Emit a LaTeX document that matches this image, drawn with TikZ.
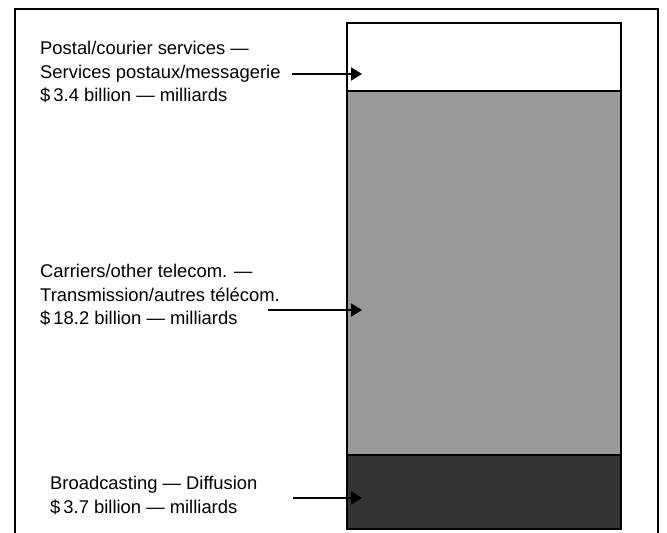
\documentclass[tikz,border=0pt]{standalone}
\usepackage{fontspec}
\setmainfont{Liberation Sans}
\usetikzlibrary{arrows.meta}

\begin{document}
\begin{tikzpicture}[x=1pt, y=-1pt,
  seg/.style={draw=black, line width=2.4pt},
  pointer/.style={-{Triangle[length=11pt, width=13pt]}, line width=2pt},
  lbl/.style={anchor=north west, inner sep=0pt, align=left,
    font=\fontsize{18.4}{23.5}\selectfont}]
\useasboundingbox (0,0) rectangle (667,533);
\draw[line width=2.6pt] (15,533) -- (15,9) -- (658,9) -- (658,533);
\filldraw[seg, fill=white] (347,23) rectangle (621,91);
\filldraw[seg, fill=black!40] (347,91) rectangle (621,455);
\filldraw[seg, fill=black!80] (347,455) rectangle (621,529);
\node[lbl] (postal) at (40,41) {Postal/courier services ---\\Services postaux/messagerie\\\$\,3.4 billion --- milliards};
\node[lbl] (carriers) at (40,264) {Carriers/other telecom. ---\\Transmission/autres télécom.\\\$\,18.2 billion --- milliards};
\node[lbl] (broad) at (50,476) {Broadcasting --- Diffusion\\\$\,3.7 billion --- milliards};
\coordinate (postalfrom) at (292,74);
\coordinate (postaltip) at (362,74);
\coordinate (carriersfrom) at (268,310);
\coordinate (carrierstip) at (362,310);
\coordinate (broadfrom) at (293,498);
\coordinate (broadtip) at (362,498);
\draw[pointer] (postalfrom) -- (postaltip);
\draw[pointer] (carriersfrom) -- (carrierstip);
\draw[pointer] (broadfrom) -- (broadtip);
\end{tikzpicture}
\end{document}
